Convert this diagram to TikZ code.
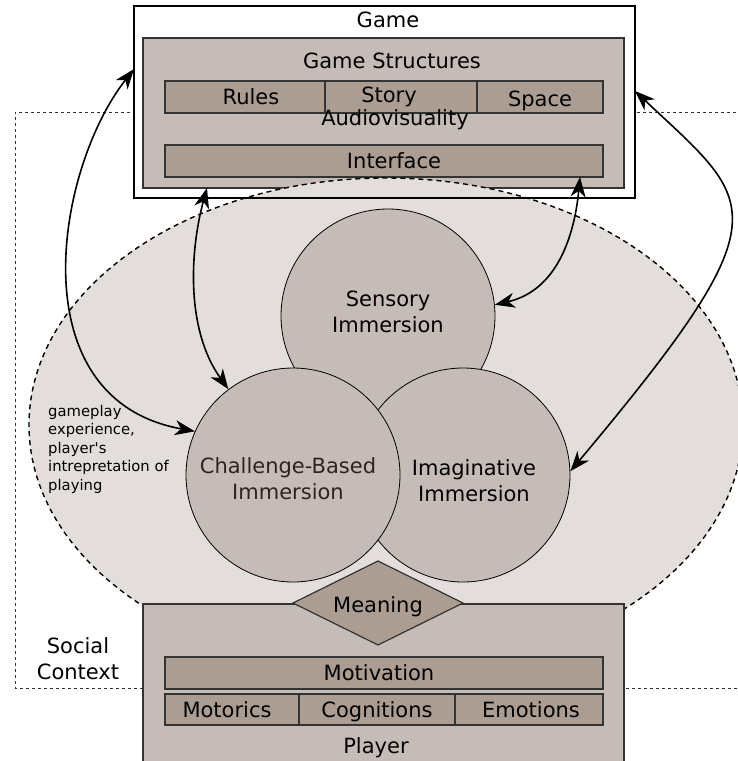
\documentclass[tikz,border=0pt]{standalone}
\usepackage{fontspec}
\setmainfont{DejaVu Sans}
\usetikzlibrary{arrows.meta,shapes.geometric,calc}

\definecolor{panel}{HTML}{C6BCB7}
\definecolor{cellfill}{HTML}{AB9D92}
\definecolor{haze}{HTML}{E3DEDC}
\definecolor{inkdark}{HTML}{2D2422}

\tikzset{
  lbl/.style={font=\fontsize{21}{26}\selectfont, anchor=base, inner sep=0pt, align=center},
  small/.style={font=\fontsize{14.8}{18.4}\selectfont, anchor=base west, inner sep=0pt, align=left},
  frame/.style={draw=black, line width=1.1pt},
  box/.style={rectangle, inner sep=0pt, outer sep=0pt},
  panelbox/.style={box, fill=panel, draw=black!80, line width=1.2pt},
  cellbox/.style={box, fill=cellfill, draw=black!80, line width=1.2pt},
  bubble/.style={circle, fill=panel, draw=black, line width=0.8pt, inner sep=0pt, minimum size=214pt},
  link/.style={{Stealth[length=20pt,width=15pt,inset=6pt]}-{Stealth[length=20pt,width=15pt,inset=6pt]}, line width=1.6pt},
}

\begin{document}
\begin{tikzpicture}[x=1pt,y=1pt]
    \useasboundingbox (0,0) rectangle (738,-761);

    % social context
    \draw[black!80, line width=0.9pt, dash pattern=on 3pt off 3pt]
        (760,-112) -- (15,-112) -- (15,-688) -- (760,-688);

    % game side
    \node[box, fill=white, frame, minimum width=501pt, minimum height=192pt] (game) at (384.5,-102) {};
    \node[panelbox, minimum width=481pt, minimum height=150pt] (struct) at (383.5,-113) {};
    \node[cellbox, minimum width=160pt, minimum height=32pt] (rules) at (245,-97) {};
    \node[cellbox, minimum width=152pt, minimum height=32pt] (story) at (401,-97) {};
    \node[cellbox, minimum width=126pt, minimum height=32pt] (space) at (540,-97) {};
    \node[cellbox, minimum width=438pt, minimum height=32pt] (interface) at (384,-161) {};

    % gameplay area
    \node[ellipse, fill=haze, draw=black, line width=1.4pt, dash pattern=on 5pt off 4pt,
          inner sep=0pt, minimum width=714pt, minimum height=494pt] (gameplay) at (386,-425) {};
    \draw[frame] (game.south west) -- (game.south east);

    \node[bubble] (sens) at (388,-316) {};
    \node[bubble] (imag) at (463,-475) {};
    \node[bubble] (chal) at (293,-475) {};

    % player side
    \node[panelbox, minimum width=481pt, minimum height=176pt] (player) at (383.5,-692) {};
    \node[cellbox, diamond, aspect=2, minimum width=170pt, minimum height=84pt] (meaning) at (378,-603) {};
    \node[cellbox, minimum width=438pt, minimum height=32pt] (motivation) at (384,-673) {};
    \node[cellbox, minimum width=134pt, minimum height=31pt] (motorics) at (232,-709.5) {};
    \node[cellbox, minimum width=156pt, minimum height=31pt] (cognitions) at (377,-709.5) {};
    \node[cellbox, minimum width=148pt, minimum height=31pt] (emotions) at (529,-709.5) {};

    % texts (multi-line ones sit on their last baseline)
    \node[lbl] (gametxt) at (388,-27) {Game};
    \node[lbl] (structtxt) at (392,-68) {Game Structures};
    \node[lbl] (rulestxt) at (251,-104) {Rules};
    \node[lbl] (storytxt) at (389,-102) {Story};
    \node[lbl] (spacetxt) at (540,-106) {Space};
    \node[lbl] (avtxt) at (395,-125) {Audiovisuality};
    \node[lbl] (interfacetxt) at (394,-168) {Interface};

    \node[lbl] (senstxt) at (388,-332) {Sensory\\Immersion};
    \node[lbl] (imagtxt) at (474,-501) {Imaginative\\Immersion};
    \node[lbl, text=inkdark] (chaltxt) at (288,-499) {Challenge-Based\\Immersion};

    \node[small] (note) at (48,-490) {gameplay\\experience,\\player\textquotesingle s\\intrepretation of\\playing};
    \node[lbl] (socialtxt) at (78,-679) {Social\\Context};

    \node[lbl] (meaningtxt) at (378,-612) {Meaning};
    \node[lbl] (motivationtxt) at (379,-680) {Motivation};
    \node[lbl] (motoricstxt) at (227,-717) {Motorics};
    \node[lbl] (cognitionstxt) at (377,-717) {Cognitions};
    \node[lbl] (emotionstxt) at (531,-717) {Emotions};
    \node[lbl] (playertxt) at (376,-753) {Player};

    % links between game and immersion
    \draw[link] ($(game.north west)+(0,-63)$) .. controls +(-79,-101) and +(-177,32) .. (chal.156);
    \draw[link] ($(struct.south)+(-176.5,0)$) .. controls +(-17,-62) and +(-43,60) .. (chal.127);
    \draw[link] ($(interface.south)+(196,0)$) .. controls +(-5,-53) and +(65,15) .. (sens.6);
    \draw[link] ($(game.north east)+(0,-85)$) .. controls +(121,-114) and +(218,260) .. (imag.2);
\end{tikzpicture}
\end{document}
